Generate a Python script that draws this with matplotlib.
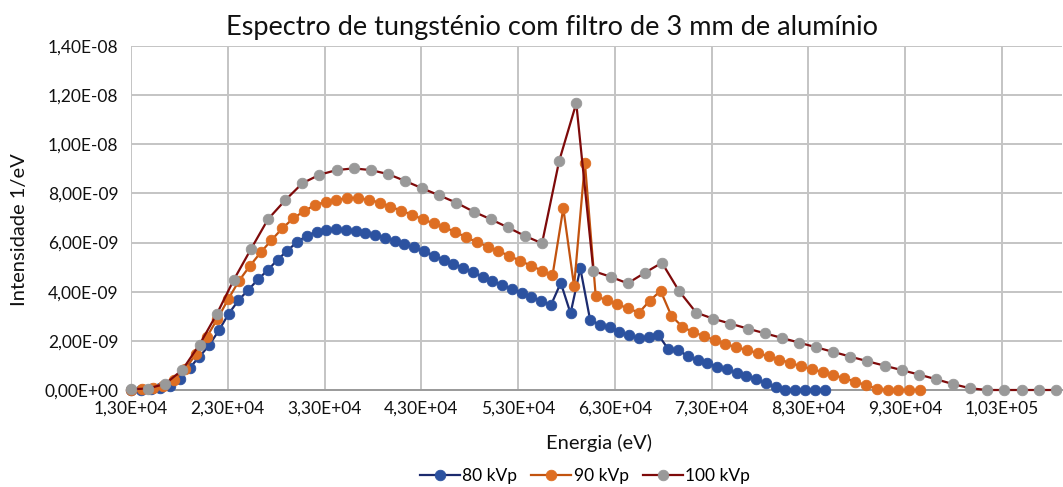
import numpy as np
import matplotlib
matplotlib.use("Agg")
import matplotlib.pyplot as plt
from matplotlib.ticker import FuncFormatter, FixedLocator, MultipleLocator

plt.rcParams['font.family'] = ['Lato', 'DejaVu Sans']

# energy grids (eV): first bin, last bin, number of points per spectrum
e80 = np.linspace(13000, 84660, 72)
e90 = np.linspace(13000, 94520, 74)
e100 = np.linspace(13000, 108560, 55)

# intensities (x 1e-9 1/eV)
i80 = [0.01, 0.02, 0.04, 0.08, 0.16, 0.45, 0.90, 1.35, 1.82, 2.43,
       3.10, 3.65, 4.07, 4.50, 4.88, 5.30, 5.67, 6.02, 6.28, 6.44,
       6.52, 6.55, 6.53, 6.49, 6.40, 6.32, 6.19, 6.07, 5.93, 5.80,
       5.64, 5.47, 5.30, 5.14, 4.97, 4.79, 4.61, 4.44, 4.27, 4.11,
       3.95, 3.79, 3.62, 3.46, 4.36, 3.12, 4.95, 2.86, 2.65, 2.55,
       2.38, 2.22, 2.11, 2.17, 2.24, 1.66, 1.63, 1.38, 1.21, 1.08,
       0.95, 0.84, 0.69, 0.58, 0.44, 0.27, 0.11, 0.0, 0.0, 0.0,
       0.0, 0.0]
i90 = [0.02, 0.04, 0.08, 0.16, 0.42, 0.85, 1.45, 2.15, 2.90, 3.70,
       4.45, 5.05, 5.60, 6.10, 6.58, 6.98, 7.28, 7.52, 7.66, 7.75,
       7.80, 7.82, 7.74, 7.63, 7.46, 7.30, 7.13, 6.95, 6.78, 6.62,
       6.43, 6.22, 6.02, 5.84, 5.65, 5.46, 5.26, 5.06, 4.86, 4.66,
       7.40, 4.22, 9.25, 3.83, 3.65, 3.49, 3.32, 3.15, 3.63, 4.04,
       3.02, 2.58, 2.35, 2.20, 2.03, 1.87, 1.74, 1.63, 1.50, 1.37,
       1.24, 1.10, 0.97, 0.85, 0.73, 0.61, 0.48, 0.34, 0.20, 0.05,
       0.0, 0.0, 0.0, 0.0]
i100 = [0.03, 0.06, 0.25, 0.82, 1.85, 3.08, 4.48, 5.73, 6.95, 7.72,
        8.41, 8.76, 8.95, 9.02, 8.95, 8.79, 8.51, 8.21, 7.92, 7.62,
        7.26, 6.95, 6.62, 6.27, 5.97, 9.32, 11.67, 4.84, 4.61, 4.34,
        4.77, 5.18, 4.03, 3.15, 2.90, 2.70, 2.50, 2.31, 2.12, 1.93,
        1.74, 1.55, 1.36, 1.17, 0.99, 0.81, 0.63, 0.44, 0.24, 0.07,
        0.0, 0.0, 0.0, 0.0, 0.0]

x_ticks = [13000, 23000, 33000, 43000, 53000, 63000, 73000, 83000, 93000, 103000]

series = [
    (e80, i80, '80 kVp', '#1C2B6E', '#2C52A0'),
    (e90, i90, '90 kVp', '#C2530F', '#DE6E22'),
    (e100, i100, '100 kVp', '#7E0A0A', '#999999'),
]

fig = plt.figure(figsize=(10.63, 4.87), dpi=100)
ax = fig.add_axes([131 / 1063, 1 - 390 / 487, (1062 - 131) / 1063, (390 - 46) / 487])

for e, vals, lab, lc, mc in series:
    ax.plot(e, np.array(vals) * 1e-9, color=lc, lw=1.6, marker='o', ms=7.6,
            mfc=mc, mec=mc, mew=0.6, label=lab, clip_on=False, zorder=3)

ax.set_xlim(13000, 109200)
ax.set_ylim(0, 1.4e-8)
ax.xaxis.set_major_locator(FixedLocator(x_ticks))
ax.yaxis.set_major_locator(MultipleLocator(2e-9))
sci = FuncFormatter(lambda v, p: f"{v:.2E}".replace('.', ','))
ax.xaxis.set_major_formatter(sci)
ax.yaxis.set_major_formatter(sci)
ax.tick_params(length=0, labelsize=12.5, colors='#111111', pad=8)
ax.tick_params(axis='y', pad=9)

ax.grid(True, color='#C4C4C4', lw=1.4)
ax.set_axisbelow(True)
for s in ['top', 'right', 'left']:
    ax.spines[s].set_visible(False)
ax.spines['bottom'].set_color('#9A9A9A')
ax.spines['bottom'].set_linewidth(1.4)

fig.text(552 / 1063, 1 - 28 / 487, 'Espectro de tungsténio com filtro de 3 mm de alumínio',
         ha='center', va='center', fontsize=19.5, color='#111111')
fig.text(599 / 1063, 1 - 443 / 487, 'Energia (eV)', ha='center', va='center',
         fontsize=14.5, color='#111111')
fig.text(20 / 1063, 1 - 230 / 487, 'Intensidade 1/eV', ha='center', va='center',
         rotation=90, fontsize=14.5, color='#111111')

fig.legend(loc='center', bbox_to_anchor=(585 / 1063, 1 - 476 / 487), ncol=3,
           frameon=False, fontsize=12.5, handlelength=2.3, handletextpad=0.15,
           columnspacing=0.8, borderaxespad=0)

fig.savefig('out.png', dpi=100)
